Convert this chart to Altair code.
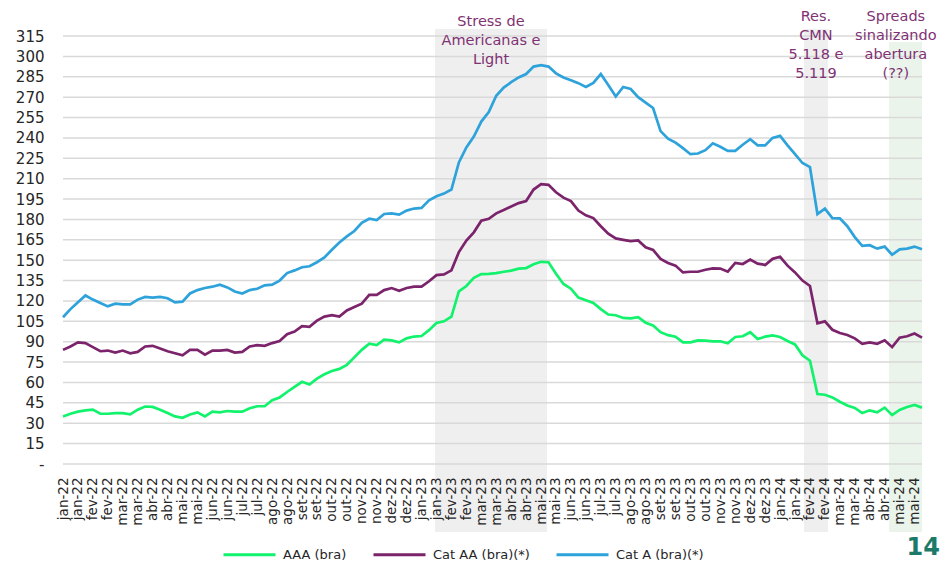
import json
import altair as alt
import pandas as pd

# ---------------- data ----------------
months_pt = ["jan", "fev", "mar", "abr", "mai", "jun", "jul", "ago", "set", "out", "nov", "dez"]
month_seq = ([f"{m}-22" for m in months_pt] + [f"{m}-23" for m in months_pt]
             + [f"{m}-24" for m in months_pt[:5]])
tick_labels = [lab for lab in month_seq for _ in range(2)]  # each month shown twice

series_names = ["AAA (bra)", "Cat AA (bra)(*)", "Cat A (bra)(*)"]
series_colors = ["#12f26c", "#7b236b", "#2ea2da"]

aaa = [35, 37, 38.5, 39.5, 40, 37, 37, 37.5, 37.5, 36.5, 40, 42.3, 42, 40, 37.5, 35, 34, 36.5, 38, 35,
       38.5, 38, 39, 38.5, 38.5, 41, 42.5, 42.5, 47, 49, 53, 56.8, 60.5, 58.5, 62.8, 66, 68.5, 70, 73,
       78.5, 84, 88.5, 87.5, 91.5, 91, 89.5, 92.5, 93.8, 94.2, 98.5, 103.8, 105, 108.5, 127, 131, 137, 139.8, 140, 140.5,
       141.5, 142.3, 143.8, 144.2, 147, 148.8, 148.5, 140, 132.5, 129, 122.5, 120.5, 118.5, 114, 110, 109.5, 107.5, 107.2, 108,
       104, 102, 97, 94.8, 93.7, 89.5, 89.5, 91, 90.8, 90.3, 90.3, 88.8, 93.5, 94, 97, 92, 93.7, 94.6, 93.5,
       90.5, 88, 80, 76, 51.5, 51, 49, 45.8, 43, 41.3, 37.5, 39.5, 38, 41.5, 36, 39.8, 42, 43.4, 41.5]

cat_aa = [84, 86.5, 89.5, 89, 86, 83, 83.5, 82, 83.5, 81.5, 82.5, 86.5, 87, 85, 83, 81.5, 80, 84, 84, 80.5,
          83.5, 83.5, 84, 82, 82.5, 86.5, 87.5, 87, 89, 90.5, 95.5, 97.5, 101.5, 101, 105.5, 108.5, 109.6, 108.5, 113,
          115.5, 118, 124.5, 124.5, 128, 129.5, 127.5, 129.5, 130.5, 130.5, 134.5, 139, 139.5, 142.5, 156, 164.5, 170.5, 179, 180.5, 184.5,
          187, 189.5, 192, 193.5, 202, 206, 205.5, 200, 196, 193.5, 186.5, 183, 181, 175, 169.5, 166, 165, 164, 164.5,
          159.5, 157.5, 151, 148, 146, 141, 141.5, 141.5, 143, 144, 143.8, 141.5, 148, 147.2, 150.5, 147.5, 146.5, 151, 152.5,
          146, 141, 135, 131, 103.5, 105, 98.8, 96.4, 95, 92.5, 88.5, 89.5, 88.5, 91, 86, 93, 94, 96, 93]

cat_a = [108, 114, 119, 124, 121, 118.5, 116, 118, 117.5, 117.5, 121, 123, 122.5, 123, 122, 119, 119.5, 125.5, 128, 129.5,
         130.5, 132, 130, 127, 125.5, 128, 129, 131.5, 132, 135, 140.5, 142.5, 144.8, 145.5, 148.5, 152, 157.7, 163, 167.5,
         171.5, 177.5, 180.5, 179.5, 184, 184.5, 183.5, 186.5, 188, 188.5, 194, 197, 199, 202, 222, 233, 241, 252, 259, 271,
         277, 281, 284.5, 287, 292.5, 293.5, 292.5, 287.5, 284.5, 282.5, 280.3, 277.5, 280.5, 287, 279, 270.5, 277.5, 276, 270,
         266, 262, 245, 239.5, 236.5, 232.5, 228, 228.5, 231, 236, 233.5, 230.5, 230.5, 235, 239, 234.5, 234.5, 240, 241.5,
         234.5, 228, 221.5, 218.5, 184, 188, 181, 180.8, 175, 167, 160.5, 161, 158.5, 160, 154, 158, 158.5, 160, 158]

obs_per_label = 2  # observations between two consecutive tick labels

# shaded periods (in tick-label units)
band_start = [24.9, 49.6, 55.3]
band_end = [32.4, 51.2, 57.5]
band_colors = ["#efefef", "#efefef", "#eaf4eb"]

ann_text = ["Stress de\nAmericanas e\nLight", "Res.\nCMN\n5.118 e\n5.119",
            "Spreads\nsinalizando\nabertura\n(??)"]
ann_t = [28.65, 50.4, 55.75]

grid_values = list(range(0, 316, 15))

# ---------------- chart ----------------
W, H = 859, 428
band_top = [-7, -7, 6]
ann_top = [-21, -26, -26]
FONT = "DejaVu Sans"

rows = []
for name, vals in zip(series_names, [aaa, cat_aa, cat_a]):
    for i, v in enumerate(vals):
        rows.append({"t": i / obs_per_label, "v": v, "serie": name})
df = pd.DataFrame(rows)

xscale = alt.Scale(domain=[0, (len(aaa) - 1) / obs_per_label], nice=False, zero=False)
yscale = alt.Scale(domain=[0, 315], nice=False)

xaxis = alt.Axis(values=list(range(len(tick_labels))),
                 labelExpr=json.dumps(tick_labels) + "[datum.value]",
                 labelAngle=-90, labelOverlap=False, labelFlush=False, grid=False,
                 domain=False, ticks=False, labelPadding=13, labelFontSize=13.5,
                 labelColor="#262626", title=None, zindex=1)
yaxis = alt.Axis(values=grid_values, labelExpr="datum.value == 0 ? '-' : datum.label",
                 grid=False, domain=False, ticks=False, labelPadding=19, labelFontSize=15,
                 labelColor="#262626", title=None, zindex=1)

layers = []
for s, e, c, top in zip(band_start, band_end, band_colors, band_top):
    bd = pd.DataFrame({"s": [s], "e": [e]})
    layers.append(
        alt.Chart(bd).mark_rect(color=c).encode(
            x=alt.X("s:Q", scale=xscale, axis=xaxis), x2="e:Q",
            y=alt.value(top), y2=alt.value(H + 68)))

grid = alt.Chart(pd.DataFrame({"g": grid_values})).mark_rule(
    color="#d9d9d9", strokeWidth=1.5).encode(
    y=alt.Y("g:Q", scale=yscale, axis=yaxis), x=alt.value(0), x2=alt.value(W))
layers.append(grid)

lines = alt.Chart(df).mark_line(strokeWidth=2.7).encode(
    x=alt.X("t:Q", scale=xscale, axis=xaxis),
    y=alt.Y("v:Q", scale=yscale, axis=yaxis),
    color=alt.Color("serie:N", scale=alt.Scale(domain=series_names, range=series_colors),
                    sort=series_names,
                    legend=alt.Legend(title=None, orient="none", legendX=180, legendY=H + 84,
                                      direction="horizontal", columns=3,
                                      symbolType="M-5.2,0H5.2", symbolSize=100,
                                      symbolStrokeWidth=3, labelFontSize=13,
                                      labelColor="#262626", columnPadding=20, labelOffset=27)),
    detail="serie:N")
layers.append(lines)

for txt, t, top in zip(ann_text, ann_t, ann_top):
    ad = pd.DataFrame({"t": [t], "txt": [txt]})
    layers.append(
        alt.Chart(ad).mark_text(lineBreak="\n", lineHeight=19, fontSize=14.5, color="#7f3274",
                                align="center", baseline="top").encode(
            x=alt.X("t:Q", scale=xscale, axis=xaxis), y=alt.value(top), text="txt:N"))

page = alt.Chart(pd.DataFrame({"p": ["14"]})).mark_text(
    fontSize=24, fontWeight="bold", color="#1b7a69", align="right", baseline="middle").encode(
    text="p:N", x=alt.value(W + 18), y=alt.value(H + 84))
layers.append(page)

chart = alt.layer(*layers).properties(
    width=W, height=H,
    padding={"left": 55, "top": 28, "right": 19, "bottom": 98},
    autosize=alt.AutoSizeParams(type="none"),
).configure(font=FONT).configure_view(stroke=None)

chart.save("out.html", embed_options={"renderer": "svg", "actions": False})
